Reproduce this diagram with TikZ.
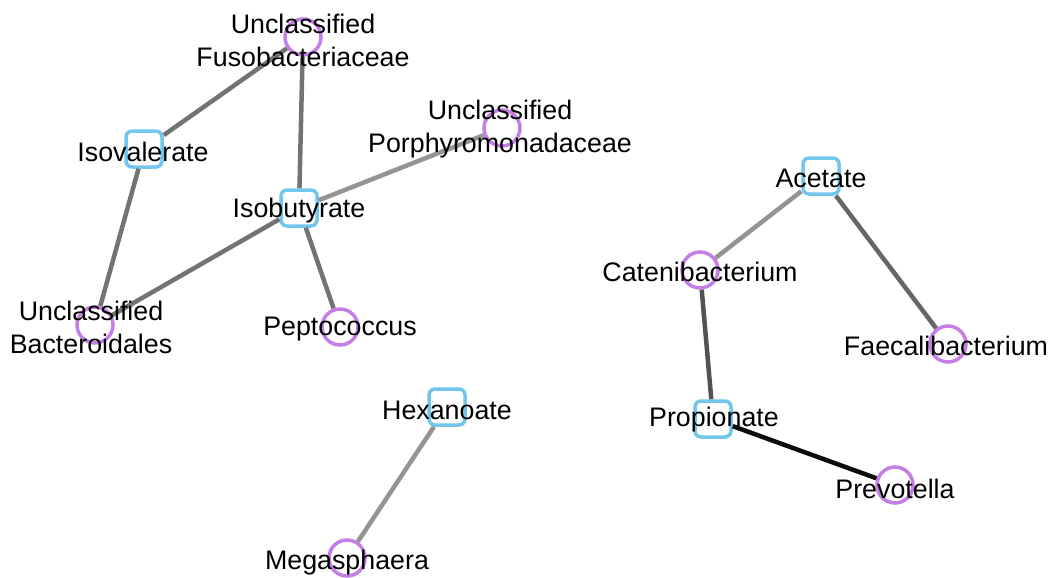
\documentclass[tikz,border=0pt]{standalone}
\usepackage{fontspec}
\setmainfont{Liberation Sans}
\begin{document}
\begin{tikzpicture}[x=1pt,y=-1pt,
  taxon/.style={circle,draw=taxcol,line width=3.5pt,minimum size=36pt,inner sep=0pt},
  acid/.style={rectangle,rounded corners=6pt,draw=acidcol,line width=3.5pt,minimum size=36pt,inner sep=0pt},
  lbl/.style={align=center,inner sep=0pt,font=\fontsize{26.8}{33}\selectfont},
  link/.style={line width=4.5pt}]
\definecolor{taxcol}{HTML}{C57EE6}
\definecolor{acidcol}{HTML}{72C6EC}
\useasboundingbox (0,0) rectangle (1053,578);

% node shapes
\node[taxon] (fuso) at (303,37) {};
\node[taxon] (porph) at (502,128) {};
\node[taxon] (bact) at (95,325) {};
\node[taxon] (pepto) at (340,327) {};
\node[taxon] (mega) at (347,558) {};
\node[taxon] (cateni) at (700,270) {};
\node[taxon] (faec) at (948,344) {};
\node[taxon] (prev) at (895,485) {};
\node[acid] (isoval) at (144,149) {};
\node[acid] (isobut) at (299,208) {};
\node[acid] (acet) at (821,176) {};
\node[acid] (prop) at (713,419) {};
\node[acid] (hexa) at (447,407) {};

% connectors
\draw[link,color=black!55] (fuso) -- (isoval);
\draw[link,color=black!55] (fuso) -- (isobut);
\draw[link,color=black!42] (isobut) -- (porph);
\draw[link,color=black!55] (isoval) -- (bact);
\draw[link,color=black!55] (isobut) -- (bact);
\draw[link,color=black!55] (isobut) -- (pepto);
\draw[link,color=black!42] (hexa) -- (mega);
\draw[link,color=black!42] (acet) -- (cateni);
\draw[link,color=black!60] (acet) -- (faec);
\draw[link,color=black!68] (cateni) -- (prop);
\draw[link,color=black!95] (prop) -- (prev);

% labels
\node[lbl] (fusoL) at (303,40) {Unclassified\\Fusobacteriaceae};
\node[lbl] (porphL) at (500,129) {Unclassified\\Porphyromonadaceae};
\node[lbl] (bactL) at (91,327) {Unclassified\\Bacteroidales};
\node[lbl] (peptoL) at (340,329) {Peptococcus};
\node[lbl] (megaL) at (347,563) {Megasphaera};
\node[lbl] (cateniL) at (700,272) {Catenibacterium};
\node[lbl] (faecL) at (946,346) {Faecalibacterium};
\node[lbl] (prevL) at (895,489) {Prevotella};
\node[lbl] (isovalL) at (143,152) {Isovalerate};
\node[lbl] (isobutL) at (299,211) {Isobutyrate};
\node[lbl] (acetL) at (821,178) {Acetate};
\node[lbl] (propL) at (714,420) {Propionate};
\node[lbl] (hexaL) at (447,410) {Hexanoate};
\end{tikzpicture}
\end{document}
